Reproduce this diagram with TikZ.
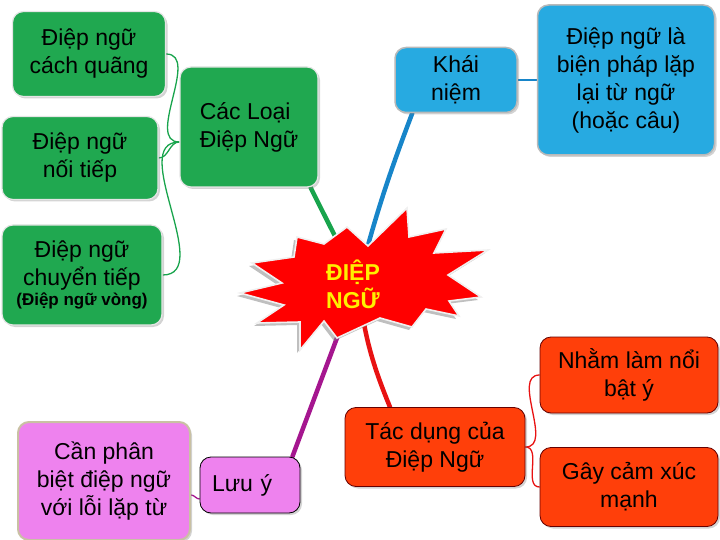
\documentclass[tikz,border=0pt]{standalone}
\usepackage{fontspec}
\setmainfont{Liberation Sans}
\usepackage{xcolor}
\usepackage{tikz}
\usetikzlibrary{shadows,backgrounds}
\definecolor{leaf}{HTML}{20A850}
\definecolor{sky}{HTML}{27AAE1}
\definecolor{flame}{HTML}{FF3F0A}
\definecolor{orchid}{HTML}{EE82EE}
\definecolor{sand}{HTML}{C9C1A3}
\definecolor{burst}{HTML}{FF0000}
\definecolor{gold}{HTML}{FFF000}
\definecolor{stemgreen}{HTML}{18A44C}
\definecolor{stemblue}{HTML}{1785C9}
\definecolor{stempurple}{HTML}{A5168F}
\definecolor{stemred}{HTML}{E81212}
\tikzset{
  box/.style={rounded corners=11pt, align=center, text=black, inner sep=2pt,
    font=\fontsize{23}{28}\selectfont,
    drop shadow={shadow xshift=2pt, shadow yshift=-2pt, opacity=0.35}},
  greenbox/.style={box, fill=leaf, draw=white!80!gray, line width=1.2pt},
  bluebox/.style={box, fill=sky, draw=gray!55, line width=1.5pt},
  redbox/.style={box, fill=flame, draw=black!60!red, line width=0.8pt},
  pinkbox/.style={box, fill=orchid},
  stem/.style={line width=4.5pt, line cap=round},
  twig/.style={line width=1.3pt},
  hubtext/.style={align=center, text=gold, font=\fontsize{23}{28}\selectfont\bfseries},
}
\begin{document}
\begin{tikzpicture}[x=1pt, y=-1pt]
  \useasboundingbox (0,0) rectangle (720,540);
  \coordinate (hub) at (358,282);
  % cac loai
  \node[greenbox, minimum width=153pt, minimum height=85pt] (cachquang) at (89,54) {Điệp ngữ\\cách quãng};
  \node[greenbox, minimum width=156pt, minimum height=83pt] (noitiep) at (80,158) {Điệp ngữ\\nối tiếp};
  \node[greenbox, minimum width=160pt, minimum height=100pt] (chuyentiep) at (82,275)
    {Điệp ngữ\\chuyển tiếp\\[-8pt]{\fontsize{17}{20}\selectfont\bfseries(Điệp ngữ vòng)}};
  \node[greenbox, minimum width=138pt, minimum height=120pt, align=left] (cacloai) at (249,127) {Các Loại\\Điệp Ngữ};
  % khai niem
  \node[bluebox, minimum width=122pt, minimum height=65pt] (khainiem) at (456,80) {Khái\\niệm};
  \node[bluebox, minimum width=177pt, minimum height=150pt] (dinhnghia) at (626,80)
    {Điệp ngữ là\\biện pháp lặp\\lại từ ngữ\\(hoặc câu)};
  % tac dung
  \node[redbox, minimum width=180pt, minimum height=79pt] (tacdung) at (435,447) {Tác dụng của\\Điệp Ngữ};
  \node[redbox, minimum width=178pt, minimum height=76pt] (noibat) at (629,375) {Nhằm làm nổi\\bật ý};
  \node[redbox, minimum width=178pt, minimum height=79pt] (camxuc) at (629,487) {Gây cảm xúc\\mạnh};
  % luu y
  \node[pinkbox, draw=black, line width=0.8pt, minimum width=100pt, minimum height=56pt,
    text width=76pt, inner xsep=12pt, align=left] (luuy) at (250,485) {Lưu ý};
  \node[pinkbox, draw=sand, line width=2pt, minimum width=172pt, minimum height=118pt] (phanbiet) at (104,481)
    {Cần phân\\biệt điệp ngữ\\với lỗi lặp từ};

  \begin{scope}[on background layer]
    \draw[stem, draw=stemgreen] (hub) -- ([xshift=-8pt]cacloai.south east);
    \draw[stem, draw=stemblue] (hub) to[bend left=3] ([xshift=18pt]khainiem.south west);
    \draw[stem, draw=stempurple] (hub) -- ([xshift=-8pt]luuy.north east);
    \draw[stem, draw=stemred] (hub) to[bend right=8] ([xshift=-45pt]tacdung.north);
    \foreach \leafnode in {cachquang, noitiep, chuyentiep}
      \draw[twig, draw=stemgreen] (\leafnode.east) to[out=0, in=180] ([yshift=-15pt]cacloai.west);
    \draw[twig, draw=stemblue] (khainiem.east) to[out=0, in=180] (dinhnghia.west);
    \draw[twig, draw=stemred] (tacdung.east) to[out=0, in=180] (noibat.west);
    \draw[twig, draw=stemred] (tacdung.east) to[out=0, in=180] (camxuc.west);
    \draw[twig, draw=stempurple] ([yshift=-14pt]phanbiet.east) to[out=0, in=180] ([yshift=-14pt]luuy.west);
  \end{scope}

  % ngoi sao giua
  \draw[fill=burst, draw=white!88!gray, line width=1.6pt, line join=miter,
    drop shadow={shadow xshift=-3pt, shadow yshift=-3pt, opacity=0.5, fill=gray}]
    (347,227) -- (368,246) -- (407,208) -- (409,237) -- (446,229) -- (434,253) -- (488,250)
    -- (448,275) -- (481,297) -- (449,301) -- (459,316) -- (426,309) -- (412,327) -- (380,318)
    -- (337,338) -- (324,321) -- (300,350) -- (300,322) -- (257,323) -- (284,305) -- (240,293)
    -- (282,283) -- (252,263) -- (294,257) -- (297,237) -- (324,244) -- cycle;
  \node[hubtext] (hubtxt) at (353,284) {ĐIỆP\\NGỮ};
\end{tikzpicture}
\end{document}
